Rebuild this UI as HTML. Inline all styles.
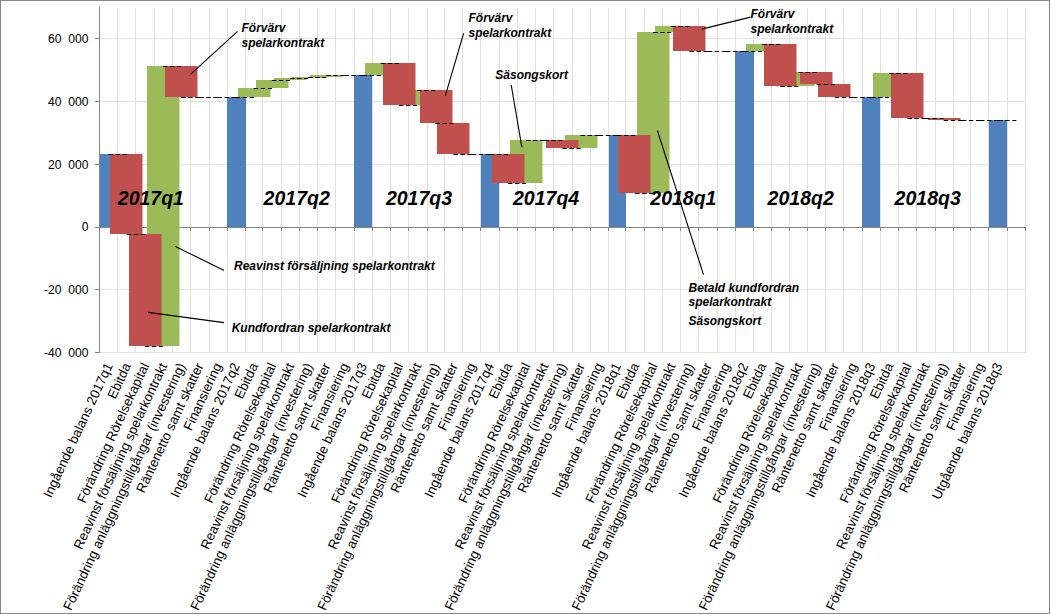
<!DOCTYPE html>
<html><head><meta charset="utf-8"><style>
html,body{margin:0;padding:0;background:#fff;width:1052px;height:614px;overflow:hidden}
svg{display:block;font-family:"Liberation Sans",sans-serif}
</style></head><body><svg width="1052" height="614" viewBox="0 0 1052 614"><rect x="0" y="0" width="1052" height="614" fill="#fff"/><rect x="0.5" y="0.5" width="1049" height="613" fill="none" stroke="#868686" stroke-width="1"/><g fill="#E0E0E0"><rect x="117" y="8" width="1" height="345"/><rect x="135" y="8" width="1" height="345"/><rect x="154" y="8" width="1" height="345"/><rect x="172" y="8" width="1" height="345"/><rect x="190" y="8" width="1" height="345"/><rect x="209" y="8" width="1" height="345"/><rect x="227" y="8" width="1" height="345"/><rect x="245" y="8" width="1" height="345"/><rect x="262" y="8" width="1" height="345"/><rect x="281" y="8" width="1" height="345"/><rect x="299" y="8" width="1" height="345"/><rect x="317" y="8" width="1" height="345"/><rect x="335" y="8" width="1" height="345"/><rect x="354" y="8" width="1" height="345"/><rect x="372" y="8" width="1" height="345"/><rect x="390" y="8" width="1" height="345"/><rect x="408" y="8" width="1" height="345"/><rect x="427" y="8" width="1" height="345"/><rect x="444" y="8" width="1" height="345"/><rect x="462" y="8" width="1" height="345"/><rect x="480" y="8" width="1" height="345"/><rect x="499" y="8" width="1" height="345"/><rect x="517" y="8" width="1" height="345"/><rect x="535" y="8" width="1" height="345"/><rect x="553" y="8" width="1" height="345"/><rect x="572" y="8" width="1" height="345"/><rect x="590" y="8" width="1" height="345"/><rect x="608" y="8" width="1" height="345"/><rect x="625" y="8" width="1" height="345"/><rect x="644" y="8" width="1" height="345"/><rect x="662" y="8" width="1" height="345"/><rect x="680" y="8" width="1" height="345"/><rect x="698" y="8" width="1" height="345"/><rect x="717" y="8" width="1" height="345"/><rect x="735" y="8" width="1" height="345"/><rect x="753" y="8" width="1" height="345"/><rect x="771" y="8" width="1" height="345"/><rect x="789" y="8" width="1" height="345"/><rect x="807" y="8" width="1" height="345"/><rect x="825" y="8" width="1" height="345"/><rect x="843" y="8" width="1" height="345"/><rect x="862" y="8" width="1" height="345"/><rect x="880" y="8" width="1" height="345"/><rect x="898" y="8" width="1" height="345"/><rect x="916" y="8" width="1" height="345"/><rect x="935" y="8" width="1" height="345"/><rect x="953" y="8" width="1" height="345"/><rect x="970" y="8" width="1" height="345"/><rect x="988" y="8" width="1" height="345"/><rect x="1007" y="8" width="1" height="345"/><rect x="1025" y="8" width="1" height="345"/><rect x="100" y="38" width="926" height="1"/><rect x="100" y="101" width="926" height="1"/><rect x="100" y="164" width="926" height="1"/><rect x="100" y="289" width="926" height="1"/><rect x="100" y="352" width="926" height="1"/></g><g fill="#868686"><rect x="99" y="7" width="1" height="346"/><rect x="95" y="38" width="4" height="1"/><rect x="95" y="101" width="4" height="1"/><rect x="95" y="164" width="4" height="1"/><rect x="95" y="227" width="4" height="1"/><rect x="95" y="289" width="4" height="1"/><rect x="95" y="352" width="4" height="1"/><rect x="99" y="227" width="927" height="1"/><rect x="99" y="228" width="1" height="3"/><rect x="117" y="228" width="1" height="3"/><rect x="135" y="228" width="1" height="3"/><rect x="154" y="228" width="1" height="3"/><rect x="172" y="228" width="1" height="3"/><rect x="190" y="228" width="1" height="3"/><rect x="209" y="228" width="1" height="3"/><rect x="227" y="228" width="1" height="3"/><rect x="245" y="228" width="1" height="3"/><rect x="262" y="228" width="1" height="3"/><rect x="281" y="228" width="1" height="3"/><rect x="299" y="228" width="1" height="3"/><rect x="317" y="228" width="1" height="3"/><rect x="335" y="228" width="1" height="3"/><rect x="354" y="228" width="1" height="3"/><rect x="372" y="228" width="1" height="3"/><rect x="390" y="228" width="1" height="3"/><rect x="408" y="228" width="1" height="3"/><rect x="427" y="228" width="1" height="3"/><rect x="444" y="228" width="1" height="3"/><rect x="462" y="228" width="1" height="3"/><rect x="480" y="228" width="1" height="3"/><rect x="499" y="228" width="1" height="3"/><rect x="517" y="228" width="1" height="3"/><rect x="535" y="228" width="1" height="3"/><rect x="553" y="228" width="1" height="3"/><rect x="572" y="228" width="1" height="3"/><rect x="590" y="228" width="1" height="3"/><rect x="608" y="228" width="1" height="3"/><rect x="625" y="228" width="1" height="3"/><rect x="644" y="228" width="1" height="3"/><rect x="662" y="228" width="1" height="3"/><rect x="680" y="228" width="1" height="3"/><rect x="698" y="228" width="1" height="3"/><rect x="717" y="228" width="1" height="3"/><rect x="735" y="228" width="1" height="3"/><rect x="753" y="228" width="1" height="3"/><rect x="771" y="228" width="1" height="3"/><rect x="789" y="228" width="1" height="3"/><rect x="807" y="228" width="1" height="3"/><rect x="825" y="228" width="1" height="3"/><rect x="843" y="228" width="1" height="3"/><rect x="862" y="228" width="1" height="3"/><rect x="880" y="228" width="1" height="3"/><rect x="898" y="228" width="1" height="3"/><rect x="916" y="228" width="1" height="3"/><rect x="935" y="228" width="1" height="3"/><rect x="953" y="228" width="1" height="3"/><rect x="970" y="228" width="1" height="3"/><rect x="988" y="228" width="1" height="3"/><rect x="1007" y="228" width="1" height="3"/><rect x="1025" y="228" width="1" height="3"/></g><g fill="#4F81BD"><rect x="100" y="154" width="10" height="73"/><rect x="227" y="97" width="19" height="130"/><rect x="354" y="75" width="18" height="152"/><rect x="481" y="154" width="18" height="73"/><rect x="609" y="135" width="17" height="92"/><rect x="735" y="51" width="19" height="176"/><rect x="862" y="97" width="18" height="130"/><rect x="989" y="120" width="18" height="107"/></g><g fill="#9BBB59"><rect x="147" y="66" width="32.5" height="280"/><rect x="238" y="88" width="32.5" height="9"/><rect x="256" y="80" width="32.5" height="8"/><rect x="274" y="78" width="32.5" height="2"/><rect x="292" y="77" width="32.5" height="1"/><rect x="310" y="75" width="32.5" height="2"/><rect x="365" y="63" width="32.5" height="12"/><rect x="401" y="90" width="32.5" height="15"/><rect x="510" y="140" width="32.5" height="43"/><rect x="565" y="135" width="32.5" height="13"/><rect x="637" y="32" width="32.5" height="161"/><rect x="655" y="26" width="32.5" height="6"/><rect x="746" y="44" width="32.5" height="7"/><rect x="782" y="72" width="32.5" height="14"/><rect x="873" y="73" width="32.5" height="24"/></g><g fill="#C0504D"><rect x="110" y="154" width="32.5" height="80"/><rect x="129" y="234" width="32.5" height="112"/><rect x="165" y="66" width="32.5" height="31"/><rect x="383" y="63" width="32.5" height="42"/><rect x="420" y="90" width="32.5" height="33"/><rect x="437" y="123" width="32.5" height="31"/><rect x="492" y="154" width="32.5" height="29"/><rect x="546" y="140" width="32.5" height="8"/><rect x="618" y="135" width="32.5" height="58"/><rect x="673" y="26" width="32.5" height="25"/><rect x="764" y="44" width="32.5" height="42"/><rect x="800" y="72" width="32.5" height="12"/><rect x="818" y="84" width="32.5" height="13"/><rect x="891" y="73" width="32.5" height="45"/><rect x="928" y="118" width="32.5" height="2"/></g><path d="M108.48 154.5H126.64M126.64 234.5H144.79M144.79 346.5H162.95M162.95 66.5H181.11M181.11 97.5H199.26M199.26 97.5H217.42M217.42 97.5H235.58M235.58 97.5H253.73M253.73 88.5H271.89M271.89 80.5H290.05M290.05 78.5H308.20M308.20 77.5H326.36M326.36 75.5H344.52M344.52 75.5H362.67M362.67 75.5H380.83M380.83 63.5H398.99M398.99 105.5H417.15M417.15 90.5H435.30M435.30 123.5H453.46M453.46 154.5H471.62M471.62 154.5H489.77M489.77 154.5H507.93M507.93 183.5H526.09M526.09 140.5H544.24M544.24 140.5H562.40M562.40 148.5H580.56M580.56 135.5H598.71M598.71 135.5H616.87M616.87 135.5H635.03M635.03 193.5H653.18M653.18 32.5H671.34M671.34 26.5H689.50M689.50 51.5H707.65M707.65 51.5H725.81M725.81 51.5H743.97M743.97 51.5H762.13M762.13 44.5H780.28M780.28 86.5H798.44M798.44 72.5H816.60M816.60 84.5H834.75M834.75 97.5H852.91M852.91 97.5H871.07M871.07 97.5H889.22M889.22 73.5H907.38M907.38 118.5H925.54M925.54 118.5H943.69M943.69 120.5H961.85M961.85 120.5H980.01M980.01 120.5H998.16M998.16 120.5H1016.32" stroke="#000" stroke-width="1.15" stroke-dasharray="4.5 2.5" fill="none"/><g font-family="Liberation Sans" font-size="13.33" fill="#000"><text transform="translate(88.4,43) scale(0.91,1)" text-anchor="end" word-spacing="3.6">60 000</text><text transform="translate(88.4,106) scale(0.91,1)" text-anchor="end" word-spacing="3.6">40 000</text><text transform="translate(88.4,169) scale(0.91,1)" text-anchor="end" word-spacing="3.6">20 000</text><text transform="translate(88.4,231) scale(0.91,1)" text-anchor="end" word-spacing="3.6">0</text><text transform="translate(88.4,294) scale(0.91,1)" text-anchor="end" word-spacing="3.6">-20 000</text><text transform="translate(88.4,357) scale(0.91,1)" text-anchor="end" word-spacing="3.6">-40 000</text></g><g font-family="Liberation Sans" font-size="13.33" fill="#000"><text transform="translate(113.08,365.6) rotate(-65)" text-anchor="end">Ingående balans 2017q1</text><text transform="translate(131.24,365.6) rotate(-65)" text-anchor="end">Ebitda</text><text transform="translate(149.39,365.6) rotate(-65)" text-anchor="end">Förändring Rörelsekapital</text><text transform="translate(167.55,365.6) rotate(-65)" text-anchor="end">Reavinst försäljning spelarkontrakt</text><text transform="translate(185.71,365.6) rotate(-65)" text-anchor="end">Förändring anläggningstillgångar (investering)</text><text transform="translate(203.86,365.6) rotate(-65)" text-anchor="end">Räntenetto samt skatter</text><text transform="translate(222.02,365.6) rotate(-65)" text-anchor="end">Finansiering</text><text transform="translate(240.18,365.6) rotate(-65)" text-anchor="end">Ingående balans 2017q2</text><text transform="translate(258.33,365.6) rotate(-65)" text-anchor="end">Ebitda</text><text transform="translate(276.49,365.6) rotate(-65)" text-anchor="end">Förändring Rörelsekapital</text><text transform="translate(294.65,365.6) rotate(-65)" text-anchor="end">Reavinst försäljning spelarkontrakt</text><text transform="translate(312.80,365.6) rotate(-65)" text-anchor="end">Förändring anläggningstillgångar (investering)</text><text transform="translate(330.96,365.6) rotate(-65)" text-anchor="end">Räntenetto samt skatter</text><text transform="translate(349.12,365.6) rotate(-65)" text-anchor="end">Finansiering</text><text transform="translate(367.27,365.6) rotate(-65)" text-anchor="end">Ingående balans 2017q3</text><text transform="translate(385.43,365.6) rotate(-65)" text-anchor="end">Ebitda</text><text transform="translate(403.59,365.6) rotate(-65)" text-anchor="end">Förändring Rörelsekapital</text><text transform="translate(421.75,365.6) rotate(-65)" text-anchor="end">Reavinst försäljning spelarkontrakt</text><text transform="translate(439.90,365.6) rotate(-65)" text-anchor="end">Förändring anläggningstillgångar (investering)</text><text transform="translate(458.06,365.6) rotate(-65)" text-anchor="end">Räntenetto samt skatter</text><text transform="translate(476.22,365.6) rotate(-65)" text-anchor="end">Finansiering</text><text transform="translate(494.37,365.6) rotate(-65)" text-anchor="end">Ingående balans 2017q4</text><text transform="translate(512.53,365.6) rotate(-65)" text-anchor="end">Ebitda</text><text transform="translate(530.69,365.6) rotate(-65)" text-anchor="end">Förändring Rörelsekapital</text><text transform="translate(548.84,365.6) rotate(-65)" text-anchor="end">Reavinst försäljning spelarkontrakt</text><text transform="translate(567.00,365.6) rotate(-65)" text-anchor="end">Förändring anläggningstillgångar (investering)</text><text transform="translate(585.16,365.6) rotate(-65)" text-anchor="end">Räntenetto samt skatter</text><text transform="translate(603.31,365.6) rotate(-65)" text-anchor="end">Finansiering</text><text transform="translate(621.47,365.6) rotate(-65)" text-anchor="end">Ingående balans 2018q1</text><text transform="translate(639.63,365.6) rotate(-65)" text-anchor="end">Ebitda</text><text transform="translate(657.78,365.6) rotate(-65)" text-anchor="end">Förändring Rörelsekapital</text><text transform="translate(675.94,365.6) rotate(-65)" text-anchor="end">Reavinst försäljning spelarkontrakt</text><text transform="translate(694.10,365.6) rotate(-65)" text-anchor="end">Förändring anläggningstillgångar (investering)</text><text transform="translate(712.25,365.6) rotate(-65)" text-anchor="end">Räntenetto samt skatter</text><text transform="translate(730.41,365.6) rotate(-65)" text-anchor="end">Finansiering</text><text transform="translate(748.57,365.6) rotate(-65)" text-anchor="end">Ingående balans 2018q2</text><text transform="translate(766.73,365.6) rotate(-65)" text-anchor="end">Ebitda</text><text transform="translate(784.88,365.6) rotate(-65)" text-anchor="end">Förändring Rörelsekapital</text><text transform="translate(803.04,365.6) rotate(-65)" text-anchor="end">Reavinst försäljning spelarkontrakt</text><text transform="translate(821.20,365.6) rotate(-65)" text-anchor="end">Förändring anläggningstillgångar (investering)</text><text transform="translate(839.35,365.6) rotate(-65)" text-anchor="end">Räntenetto samt skatter</text><text transform="translate(857.51,365.6) rotate(-65)" text-anchor="end">Finansiering</text><text transform="translate(875.67,365.6) rotate(-65)" text-anchor="end">Ingående balans 2018q3</text><text transform="translate(893.82,365.6) rotate(-65)" text-anchor="end">Ebitda</text><text transform="translate(911.98,365.6) rotate(-65)" text-anchor="end">Förändring Rörelsekapital</text><text transform="translate(930.14,365.6) rotate(-65)" text-anchor="end">Reavinst försäljning spelarkontrakt</text><text transform="translate(948.29,365.6) rotate(-65)" text-anchor="end">Förändring anläggningstillgångar (investering)</text><text transform="translate(966.45,365.6) rotate(-65)" text-anchor="end">Räntenetto samt skatter</text><text transform="translate(984.61,365.6) rotate(-65)" text-anchor="end">Finansiering</text><text transform="translate(1002.76,365.6) rotate(-65)" text-anchor="end">Utgående balans 2018q3</text></g><g font-family="Liberation Sans" font-weight="bold" font-style="italic" font-size="19.5" fill="#000"><text x="117.8" y="205">2017q1</text><text x="263.6" y="205">2017q2</text><text x="385.9" y="205">2017q3</text><text x="513" y="205">2017q4</text><text x="650.3" y="205">2018q1</text><text x="767.6" y="205">2018q2</text><text x="894.6" y="205">2018q3</text></g><g stroke="#000" stroke-width="1.1"><line x1="237.5" y1="31.3" x2="190.5" y2="74.3"/><line x1="463.6" y1="33.4" x2="445.3" y2="95.8"/><line x1="511.2" y1="85" x2="521.9" y2="147.3"/><line x1="750.5" y1="17.1" x2="701.7" y2="29.1"/><line x1="174.9" y1="246.2" x2="224.1" y2="270.5"/><line x1="148" y1="312.4" x2="224.1" y2="322.6"/><line x1="657.4" y1="130.5" x2="703.5" y2="274.7"/></g><g font-family="Liberation Sans" font-weight="bold" font-style="italic" font-size="12" fill="#000"><text x="241.5" y="32">Förvärv</text><text x="241.5" y="47">spelarkontrakt</text><text x="468.5" y="22.2">Förvärv</text><text x="468.5" y="36.8">spelarkontrakt</text><text x="495.3" y="78.7">Säsongskort</text><text x="750.5" y="18">Förvärv</text><text x="750.5" y="32.5">spelarkontrakt</text><text x="234" y="270">Reavinst försäljning spelarkontrakt</text><text x="231.7" y="331.7">Kundfordran spelarkontrakt</text><text x="688.5" y="292">Betald kundfordran</text><text x="688.5" y="306">spelarkontrakt</text><text x="688.5" y="324.6">Säsongskort</text></g></svg></body></html>
